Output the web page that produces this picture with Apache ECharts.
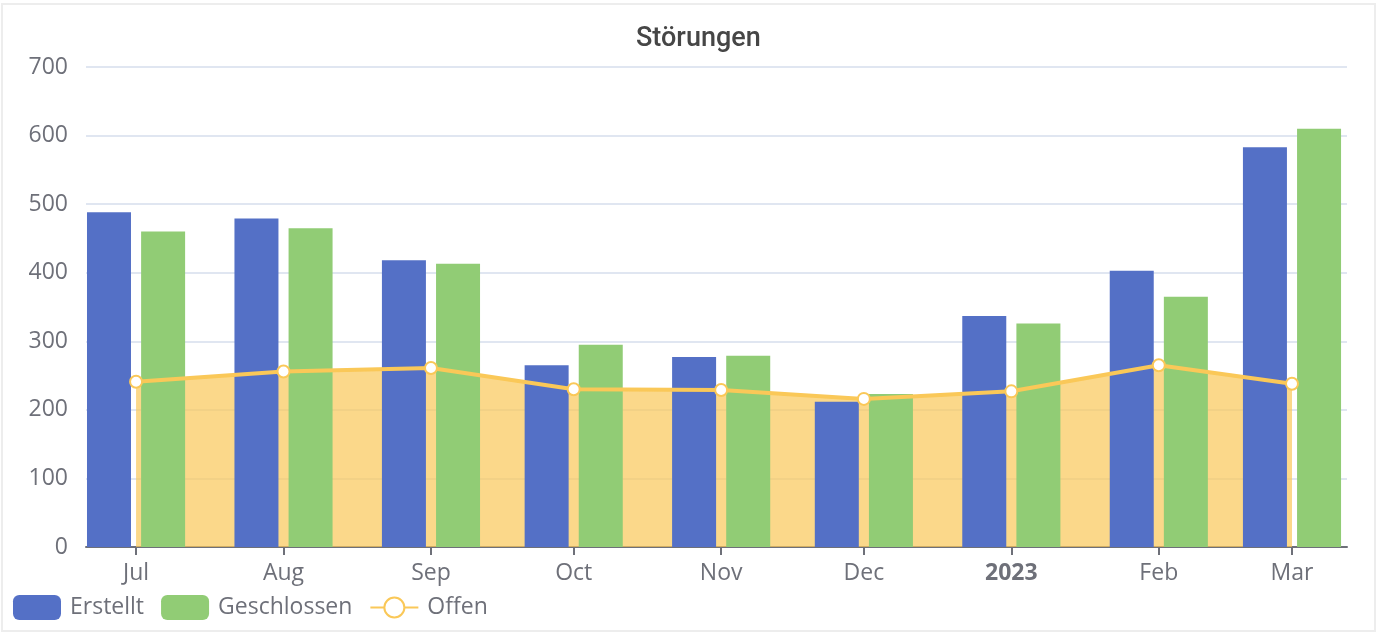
<!DOCTYPE html>
<html>
<head>
<meta charset="utf-8">
<title>Störungen</title>
<script src="https://cdn.jsdelivr.net/npm/echarts@6/dist/echarts.min.js"></script>
<style>
  html, body { margin: 0; padding: 0; background: #fff; }
  #chart { width: 1382px; height: 638px; }
  .frame {
    position: absolute; left: 1px; top: 3px; width: 1371px; height: 625px;
    border: 2px solid #ededed; pointer-events: none;
  }
</style>
</head>
<body>
<div id="chart"></div>
<div class="frame"></div>
<script>
// months (first of month)
const months = ["2022-07-01", "2022-08-01", "2022-09-01", "2022-10-01", "2022-11-01",
  "2022-12-01", "2023-01-01", "2023-02-01", "2023-03-01"];
const erstellt = [488, 479, 418, 265, 277, 212, 337, 403, 583];
const geschlossen = [460, 465, 413, 295, 279, 223, 326, 365, 610];
const offen = [241, 256, 261, 230, 229, 216, 227, 265, 238];
const yTicks = [0, 700, 100]; // min, max, interval
// time axis ends before echarts adds room for the bar pairs
const xRange = ["2022-06-30T19:00:00", "2023-03-02T06:00:00"];

const font = "'Open Sans', sans-serif";
const pairs = (vals) => months.map((m, i) => [m, vals[i]]);

const option = {
  title: {
    text: "Störungen",
    left: 631,
    top: 21,
    textStyle: {
      fontFamily: "Roboto, sans-serif",
      fontSize: 27,
      fontWeight: 500,
      color: "#464646"
    }
  },
  legend: {
    left: 8,
    bottom: 13,
    itemWidth: 48,
    itemHeight: 25,
    itemGap: 17,
    textStyle: { fontFamily: font, fontSize: 23, color: "#6e7079", padding: [0, 0, 0, 4] },
    data: ["Erstellt", "Geschlossen", "Offen"]
  },
  grid: {
    left: 86,
    right: 35,
    top: 67,
    bottom: 91
  },
  xAxis: {
    type: "time",
    min: xRange[0],
    max: xRange[1],
    axisLine: { lineStyle: { color: "#6e7079", width: 2 } },
    axisTick: { show: true, length: 8, lineStyle: { width: 2 } },
    splitLine: { show: false },
    axisLabel: {
      fontFamily: font,
      fontSize: 23,
      color: "#6e7079",
      margin: 15
    }
  },
  yAxis: {
    type: "value",
    min: yTicks[0],
    max: yTicks[1],
    interval: yTicks[2],
    axisLabel: {
      fontFamily: font,
      fontSize: 23,
      color: "#6e7079",
      margin: 18
    },
    splitLine: { lineStyle: { color: "#e0e6f1", width: 2 } }
  },
  series: [
    {
      name: "Erstellt",
      type: "bar",
      barWidth: 44,
      barGap: "23%",
      itemStyle: { color: "#5470c6" },
      z: 2,
      data: pairs(erstellt)
    },
    {
      name: "Geschlossen",
      type: "bar",
      barWidth: 44,
      barGap: "23%",
      itemStyle: { color: "#91cc75" },
      z: 2,
      data: pairs(geschlossen)
    },
    {
      // line + points drawn above the bars
      name: "Offen",
      type: "line",
      symbol: "emptyCircle",
      symbolSize: 12,
      z: 4,
      lineStyle: { color: "#fac858", width: 4 },
      itemStyle: { color: "#fac858", borderWidth: 3 },
      data: pairs(offen)
    },
    {
      // area only, drawn below the bars
      name: "Offen",
      type: "line",
      showSymbol: false,
      z: 1,
      lineStyle: { width: 0 },
      itemStyle: { color: "#fac858" },
      areaStyle: { color: "#fac858", opacity: 0.7 },
      data: pairs(offen)
    }
  ]
};

const myChart = echarts.init(document.getElementById("chart"));
myChart.setOption(option);
</script>
</body>
</html>
